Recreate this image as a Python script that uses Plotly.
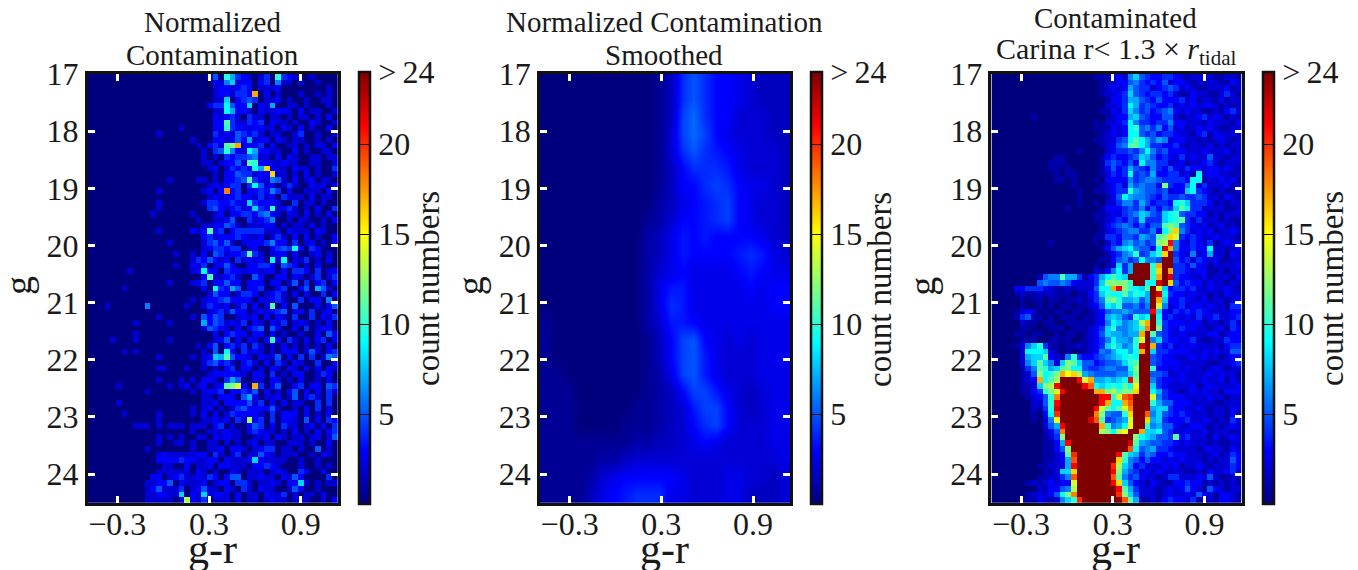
import plotly.graph_objects as go

COLOR_RANGE = [-0.4937, 1.144]
MAG_RANGE = [24.5, 17]
X_TICKS = [-0.3, 0.3, 0.9]
X_LABELS = ["\u22120.3", "0.3", "0.9"]
Y_TICKS = [17, 18, 19, 20, 21, 22, 23, 24]
CB_TICKS = [5, 10, 15, 20, 24]
CB_LABELS = ["5", "10", "15", "20", ">\u200924"]

# each char = one cell, base-25 count (0-9, a=10 ... o=24)
NORMALIZED = [
"0000 0000 0000 0000 0000 0250 a743 2024 0a43 2002 0000",
"0000 0000 0000 0000 0000 0032 6823 3034 0622 0200 2000",
"0000 0000 0000 0000 0000 0023 3234 3022 2300 0000 0020",
"0000 0000 0000 0000 0000 0023 3244 3h03 0200 0200 2020",
"0000 0000 0000 0000 0000 0022 8034 5402 2302 0020 0220",
"0000 0000 0000 0000 0000 0344 9533 8032 7002 2020 0020",
"0000 0000 0000 0000 0000 0022 9733 2032 2332 0302 2002",
"0000 0000 0000 0000 0000 0032 3420 4220 2202 0220 2030",
"0000 0000 0000 0000 0000 0033 b422 4340 3220 2003 2002",
"0000 0000 0000 0000 2000 0033 a433 2332 2032 0302 0030",
"0000 0000 0000 2000 0000 0042 3254 3420 2200 2400 2002",
"0000 0000 0000 0000 0020 0033 2353 7233 0320 2200 2020",
"0000 0000 0000 0000 0002 0342 bch2 3340 3002 2020 3203",
"0000 0000 0000 0000 0000 2045 a632 9733 2200 3020 0220",
"0000 0000 0000 0000 0000 2020 4344 5622 0303 2002 2022",
"0000 0000 0000 0000 0000 2202 3352 ba33 2232 2002 2002",
"0000 0000 0000 0000 0000 0230 2434 397g 3220 3220 2004",
"0000 0000 0000 0000 0000 0020 3354 4233 g220 2030 2002",
"0000 0000 0000 0020 0002 2020 3345 b432 6520 3023 0220",
"0000 0000 0000 0000 0000 0232 3440 4952 3024 2003 2303",
"0000 0000 0000 2000 0000 2303 i340 3343 6403 0022 2030",
"0000 0000 0000 0000 0000 0232 3343 3242 3042 2203 0220",
"0000 0000 0000 2000 0000 2443 3432 8433 3200 4022 0200",
"0000 0000 0000 2000 0000 0453 2342 3843 a234 2020 3004",
"0000 0000 0002 0000 0020 0023 0334 4356 3203 2030 2030",
"0000 0000 0000 0000 0002 0022 3500 4234 6002 0220 0203",
"0000 0000 0000 0000 0000 2233 5420 2223 3020 2203 0200",
"0000 0000 0000 2000 0032 3b34 0344 4442 2203 2220 3200",
"0000 0000 0000 0000 0000 3423 3343 2230 2420 3030 2003",
"0000 0000 0000 0020 0000 2453 5202 3334 6330 4023 0203",
"0000 0000 0000 0000 0000 2344 3440 2300 3454 9304 3000",
"0000 0000 0000 0002 0020 3054 2334 b420 2330 3002 3020",
"0000 0000 0000 0000 0024 3532 3042 3230 9290 2240 2030",
"0000 0000 0000 0002 0032 4023 5300 3344 3054 3020 3000",
"0000 0002 0000 0000 0023 9330 4332 3323 3030 4430 4023",
"0000 0000 0000 0000 0000 3b22 3420 0530 0330 3202 4024",
"0000 0000 0000 0020 0023 4033 5330 3330 3302 5040 3403",
"0000 0020 0000 0000 0000 3094 3750 3340 0340 0350 7520",
"0000 0000 0000 0000 0000 0253 3024 4302 3420 3030 0403",
"0000 0000 0000 0000 0020 2334 5333 3032 3420 0403 3060",
"0002 0000 0060 0000 0200 2432 3024 0302 b030 5000 3035",
"0000 0000 0000 0000 0000 0234 2533 0232 3450 2304 0230",
"0000 0000 0000 2000 0020 5354 0023 2303 0320 4004 0324",
"0000 0000 2000 0020 0000 7354 2324 0320 3240 2320 2030",
"0000 0000 0000 0000 0000 2543 2030 3450 5300 3040 2330",
"0000 0000 2000 0000 0000 0030 3433 0330 3020 0200 3053",
"0000 2000 2000 0020 0000 0023 5030 3203 a304 2030 3403",
"0000 0000 0000 0000 0002 0350 3424 0420 2030 2020 2030",
"0000 0020 2000 0000 0000 2050 9304 2320 2033 3025 2034",
"0000 0000 0000 2000 0020 2387 b533 2032 2503 0404 0265",
"0000 0000 0000 0000 0000 2453 4203 4203 0420 3200 4003",
"0000 0000 0000 2200 0200 2020 3403 3020 3203 2030 3032",
"0000 0000 0000 0000 0000 0233 3332 0330 4020 3300 2430",
"0000 0000 0000 2000 2020 3320 4750 0220 3302 0300 2030",
"0000 0200 0000 0020 2302 3023 bce3 0h40 3500 3403 3054",
"0000 0000 0020 0000 0020 2334 0334 3503 0203 5030 3042",
"0000 0000 0000 0000 0000 2203 3305 7302 2302 5034 2040",
"0000 0200 0000 0000 0000 2230 3333 5240 3030 2200 4040",
"0000 0000 0000 0000 0020 2302 0245 3333 5200 2030 4020",
"0000 0020 0000 2000 0020 3030 2433 3320 4033 3030 2030",
"0000 0000 0000 2000 0000 2232 3042 d340 4033 2050 3043",
"0000 0000 2220 2022 2022 2034 0200 3540 3042 2023 0304",
"0000 0000 0000 0000 0020 0222 3220 3432 2020 3020 3034",
"0000 0000 0000 2020 2002 2032 3220 0223 0320 2202 3025",
"0000 0000 0000 2002 2020 0220 2020 2302 2002 2202 0030",
"0000 0000 0020 0000 0020 0223 0332 0234 4022 0200 5020",
"0000 0000 0000 2322 2223 3042 0240 2253 2022 2002 0320",
"0000 0000 0000 3333 4332 2330 3222 3832 2220 0200 2000",
"0000 0000 0000 0220 0302 2303 3222 0334 3200 0200 2020",
"0000 0000 0000 2222 2203 2020 0320 2220 2320 0430 0300",
"0000 0000 0003 3023 4223 2430 3550 2232 2032 5300 0040",
"0000 0000 0022 3350 3222 3023 3044 2022 3203 3820 2022",
"0000 0000 0023 5222 4023 5220 3204 2032 2002 5300 2000",
"0000 0000 0022 3322 8032 8233 2030 2203 2240 2022 0300",
"0000 0000 0022 2220 2d32 4022 2030 2202 3220 2220 0203",
]

# each char = one cell, half-count units
SMOOTHED = [
"0000 0000 0013 8a86 6543 33",
"0000 0000 0013 8a86 6543 33",
"0000 0000 0013 9b86 6444 33",
"0000 0000 0014 9b96 5444 33",
"0000 0000 0014 8a87 6544 43",
"0000 0000 0013 6888 7544 43",
"0000 0000 0013 6689 8655 43",
"0000 0000 0023 5678 9654 43",
"0000 0000 0124 6678 9654 43",
"0000 0000 0235 7676 6665 43",
"0000 0000 0235 7666 6787 54",
"0000 0000 0245 6555 5676 55",
"0000 0000 0257 7555 5565 66",
"0000 0000 0258 7555 5555 66",
"1000 0000 0247 7655 5555 55",
"1000 0000 0136 9a65 4545 55",
"1000 0000 0136 9a75 4445 55",
"1100 0000 0125 9a75 4445 55",
"1110 0000 0123 6997 5434 55",
"1110 0000 1123 4799 6434 55",
"1110 0001 1123 4689 6444 55",
"1111 1111 2233 4565 4444 55",
"1111 1223 4444 4444 4444 45",
"1111 2456 6666 5444 5544 34",
"1111 3567 8885 5444 5533 34",
]

CONTAMINATED = [
"0000 0000 0000 0000 0011 1232 6854 3344 3212 2121 1221",
"0000 0000 0000 0000 0001 1233 5643 4352 3321 2222 1132",
"0000 0000 0000 0000 0001 2323 7544 2345 4232 1122 2312",
"0000 0000 0000 0000 0001 2234 8543 4434 2113 2211 2421",
"0000 0000 0000 0000 0000 1334 7754 3533 3423 1221 3122",
"0000 0000 0000 0000 0000 2234 9745 4334 2323 2332 1212",
"0000 0000 0000 0000 0001 1324 8645 3456 3232 2112 1342",
"0000 0001 0000 0000 0000 1233 7854 3355 2122 3423 2121",
"0000 0000 0000 0000 0010 2234 9644 3446 3322 2132 2213",
"0000 0000 0000 0000 0011 1323 9a56 4635 2312 3232 1122",
"0000 0000 0000 0000 0001 2323 9954 5344 3221 3413 2221",
"0000 0000 0000 0000 0011 2245 9b97 5762 3322 1212 3212",
"0000 0000 0000 0000 0001 2356 bb97 4433 4212 2131 2122",
"0000 0000 0000 0001 0000 2344 5469 6453 3322 2322 2312",
"0000 0000 0001 1000 0001 3433 4587 5343 2423 2252 2122",
"0000 0000 0011 1000 0001 4543 5396 6442 2312 2342 1222",
"0000 0000 0011 0100 0001 3534 7543 6435 3243 3233 2321",
"0000 0000 0001 0110 0001 2434 9454 7334 4231 9233 2212",
"0000 0000 0001 1010 0010 3333 6456 6544 4439 9122 3231",
"0000 0000 0000 0010 0001 2342 7565 53c4 3369 2422 2312",
"0000 0000 0000 0001 0011 2344 a765 5452 3389 4321 2112",
"0000 0000 0000 0001 0000 1359 7665 4354 4544 5422 1321",
"0000 0000 0000 0001 0010 2246 6475 3443 9a84 4431 2122",
"0000 0000 0000 0100 0001 3334 5463 5354 8b94 4222 2112",
"0000 0000 0000 0000 0011 2324 5687 5489 a544 3312 1222",
"0000 0000 0000 0000 0011 2343 5484 4489 ab42 4222 1211",
"0000 0000 0000 0000 0001 3456 5353 55bc b543 2312 3121",
"0000 0000 0000 0000 0001 2345 6644 639c g642 3231 2232",
"0000 0000 0000 0000 0011 4435 5476 5bcg e434 3223 2221",
"0000 0000 0010 0000 0010 2436 7564 5cdl 6324 3241 2322",
"0000 0000 0000 0000 0001 3578 9655 39mh 6334 3392 2123",
"0000 0000 0000 0000 0000 1346 7a45 8ago 4326 2372 2132",
"0000 0000 0000 0000 0001 1356 4596 65oo 5342 4323 1122",
"0000 0000 0000 0000 0010 1284 7ooo ahoo 4435 3212 2223",
"0000 0000 0000 0000 0021 3694 7ooo agoh 4432 3311 2122",
"0000 0000 1566 b774 1347 9b98 oooo ahom 4332 2312 2213",
"0000 0000 5655 6532 2248 cccc aoo9 9mog 5343 3132 2122",
"0000 3344 4321 1212 2259 9hlc a98b oe83 4434 2232 2321",
"0000 1211 2121 1101 1348 a99b 8a97 om94 3323 2212 1322",
"0000 0101 1011 0112 1246 bca7 7857 oh83 3432 2312 2123",
"0000 0100 1010 1101 1235 98a5 5646 oe62 3423 3232 2144",
"0000 1232 0101 1011 0123 5667 6555 l832 4343 4322 2233",
"0000 1451 1010 1110 1123 7875 4a89 o934 3232 4234 2234",
"0000 0211 0110 0111 1123 6986 78dh oa43 3323 3122 1242",
"0000 0110 0011 1011 1234 8a66 78ai oc43 2433 2212 3143",
"0000 1101 1001 0110 1235 8776 77ho b543 2322 2233 1233",
"0000 0111 0011 1100 1234 6977 6aeo 6843 3234 2112 2433",
"0000 1268 a411 0112 1234 8a86 7amo h434 2323 2222 1344",
"0000 0299 9821 0100 1236 5799 79ho 8443 3332 2323 2255",
"0000 0278 8b32 16a4 3345 6789 a9oo 5433 2223 2322 1233",
"0000 0268 b862 8cb8 5534 5568 aboo 5433 3222 2211 2234",
"0000 0146 ba78 bc99 5445 6655 9coo a332 3232 2123 2122",
"0000 0125 c9ac hfgd 7655 5566 8boo 5542 2322 2232 3221",
"0000 0123 h9bd oool eh77 8789 lcoo 6433 2322 2322 3131",
"0000 0112 8cdl oooo lj98 9a9b 9foo 8432 2223 1232 2223",
"0000 0113 4ace looo oohh cdbc cgoo 9743 2123 2322 1333",
"0000 0012 35ai oooo oool laej kooo e643 3322 2232 2122",
"0000 0002 25al oooo oool h99h jooo a755 3332 2221 1222",
"0000 0002 14am oooo oole b9be iooo 7884 3322 3212 2132",
"0000 0001 039k oooo ooic 655a gooj 6854 3432 2212 2131",
"0000 0001 026f oooo omjb 4567 eoog 7843 3342 2321 2142",
"0000 0000 0257 looo oooh a679 fooa 6755 3223 3212 1232",
"0000 0000 0135 iooo oood c9df ooh8 8954 2232 2312 2212",
"0000 0000 0124 cooo oooo oooo oc98 7554 b342 2213 1232",
"0000 0000 0113 7loo oooo oooo mb76 5544 3232 2212 1122",
"0000 0000 0113 5coo oooo oooo j956 7443 2222 1232 2132",
"0000 0000 0112 3bko oooo oolb 8746 5334 3322 2123 1243",
"0000 0000 0112 37jo oooo ooga 6535 3323 2322 2121 2253",
"0000 0000 1122 27lo oooo okd8 6342 2232 3122 3212 2243",
"0000 0000 0112 88go oooo olc7 5423 2322 2211 2132 2342",
"0000 0000 1122 46jo oooo ojb6 4532 2124 4222 3252 1121",
"0000 0012 1232 33eo oooo olg8 5321 3211 3343 3121 2121",
"0000 0000 2133 56do oooo oolb 7422 2123 2353 2153 2122",
"0000 0012 2235 9cio oooo ookc 8522 2123 2232 5321 3321",
"0000 0111 3212 68ak oooo oooj b711 2134 3324 1121 3321",
]

TITLES = [
    ["Normalized", "Contamination"],
    ["Normalized Contamination", "Smoothed"],
    ["Contaminated", "Carina r&lt; 1.3 \u00d7 <i>r</i><sub>tidal</sub>"],
]

W, H = 1342, 562
FONT = "Liberation Serif"
INK = "#1a1a1a"
JET = [[0, "#00007f"], [0.125, "#0000ff"], [0.375, "#00ffff"],
       [0.625, "#ffff00"], [0.875, "#ff0000"], [1, "#7f0000"]]


def fx(p):
    return (p - 8) / W


def fy(p):
    return 1 - (p - 8) / H


def grid(rows, n, scale=1.0):
    return [[int(c, 25) * scale for c in r.replace(" ", "").ljust(n, "0")[:n]] for r in rows]


panels = [
    dict(z=grid(NORMALIZED, 44), nx=44, ny=75, left=85, cb=359, smooth=False),
    dict(z=grid(SMOOTHED, 22, 0.5), nx=22, ny=25, left=537.3, cb=811, smooth=True),
    dict(z=grid(CONTAMINATED, 44), nx=44, ny=75, left=988.7, cb=1263, smooth=False),
]

fig = go.Figure()
annotations = []
layout = {}


def note(text, x, y, size, angle=0):
    annotations.append(dict(text=text, x=fx(x), y=fy(y), xref="paper", yref="paper",
                            xanchor="center", yanchor="middle", showarrow=False,
                            textangle=angle, font=dict(family=FONT, size=size, color=INK)))


for i, p in enumerate(panels):
    n = "" if i == 0 else str(i + 1)
    dx = (COLOR_RANGE[1] - COLOR_RANGE[0]) / p["nx"]
    dy = (MAG_RANGE[0] - MAG_RANGE[1]) / p["ny"]
    fig.add_trace(go.Heatmap(
        z=p["z"], x0=COLOR_RANGE[0] + dx / 2, dx=dx, y0=MAG_RANGE[1] + dy / 2, dy=dy,
        xaxis="x" + n, yaxis="y" + n, zmin=0, zmax=24, colorscale=JET,
        zsmooth="best" if p["smooth"] else False, hoverinfo="skip",
        colorbar=dict(
            x=fx(p["cb"]), xanchor="left", xpad=0, ypad=0, y=fy(504), yanchor="bottom",
            len=432 / H, lenmode="fraction", thickness=11, thicknessmode="pixels",
            outlinecolor="#111", outlinewidth=2.5, tickvals=CB_TICKS, ticktext=CB_LABELS,
            ticks="inside", ticklen=11, tickcolor="#111", tickwidth=1,
            tickfont=dict(family=FONT, size=32, color=INK)),
    ))
    left = p["left"]
    layout["xaxis" + n] = dict(
        domain=[fx(left + 2.7), fx(left + 253)], range=COLOR_RANGE, anchor="y" + n,
        tickvals=X_TICKS, ticktext=X_LABELS, ticks="inside", ticklen=7, tickwidth=2.5,
        tickcolor="white", mirror="ticks", showline=True, linecolor="#111", linewidth=2.7,
        showgrid=False, zeroline=False, ticklabelstandoff=-9,
        tickfont=dict(family=FONT, size=32, color=INK))
    layout["yaxis" + n] = dict(
        domain=[fy(502.7), fy(74)], range=MAG_RANGE, anchor="x" + n, tickvals=Y_TICKS,
        ticks="inside", ticklen=7, tickwidth=2.5, tickcolor="white",
        mirror="ticks", showline=True, linecolor="#111", linewidth=2.7, showgrid=False,
        zeroline=False, tickfont=dict(family=FONT, size=32, color=INK))
    cx = left + 126
    top = 18 if i == 2 else 22
    note(TITLES[i][0], cx + 1, top, 29)
    note(TITLES[i][1], cx + 1, top + 33, 30 if i == 2 else 29)
    note("g-r", cx + 1, 549, 42)
    note("g", left - 67, 286, 38, -90)
    note("count numbers", p["cb"] + 69, 289, 33, -90)

fig.update_layout(**layout, annotations=annotations, width=W, height=H,
                  margin=dict(l=0, r=0, t=0, b=0, autoexpand=False), paper_bgcolor="white",
                  plot_bgcolor="white", showlegend=False)
fig.write_html("out.html")
